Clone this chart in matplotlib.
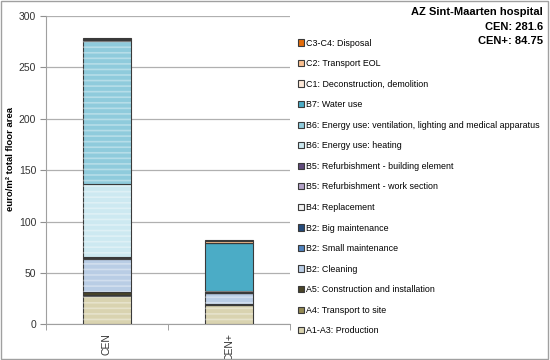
import matplotlib
matplotlib.use('Agg')
import matplotlib.pyplot as plt
import matplotlib.patches as mpatches
import numpy as np

plt.rcParams['font.family'] = ['Liberation Sans', 'DejaVu Sans']
plt.rcParams['hatch.linewidth'] = 1.2

# data (euro/m2 total floor area), bottom to top
scenarios = ['CEN', 'CEN+']
stages = ['A1-A3: Production', 'A4: Transport to site', 'A5: Construction and installation',
          'B2: Cleaning', 'B2: Small maintenance', 'B2: Big maintenance', 'B4: Replacement',
          'B5: Refurbishment - work section', 'B5: Refurbishment - building element',
          'B6: Energy use: heating',
          'B6: Energy use: ventilation, lighting and medical apparatus',
          'B7: Water use', 'C1: Deconstruction, demolition', 'C2: Transport EOL',
          'C3-C4: Disposal']
cen = [28.0, 1.0, 2.0, 33.0, 0.3, 0.5, 0.3, 0.2, 0.2, 71.5, 139.0, 0.3, 0.8, 0.5, 1.0]
cen_plus = [18.5, 0.5, 1.2, 10.0, 0.3, 0.3, 0.2, 0.1, 0.1, 0.5, 1.2, 46.0, 0.6, 1.6, 0.6]
colors = ['#d9d3b0', '#948a54', '#4a452a', '#b9cde5', '#4f81bd', '#254a7a', '#f2f2f2',
          '#b3a2c7', '#604a7b', '#cde9f1', '#8fcbdc', '#4bacc6', '#fde9d9', '#fac090',
          '#e46c0a']
hatched = [True, False, False, True, False, False, False,
           False, False, True, True, False, False, False, False]
totals = {'CEN': 281.6, 'CEN+': 84.75}

fig = plt.figure(figsize=(5.5, 3.6), dpi=100)
ax = fig.add_axes([0.0836, 0.099, 0.4437, 0.8566])

x = np.arange(len(scenarios))
bottom = np.zeros(len(scenarios))
for i, name in enumerate(stages):
    vals = np.array([cen[i], cen_plus[i]])
    ax.bar(x, vals, 0.4, bottom=bottom, color=colors[i], edgecolor='#3a3a3a',
           linewidth=0.8, zorder=3)
    if hatched[i]:
        ax.bar(x, vals, 0.4, bottom=bottom, color='none', edgecolor='#ffffff',
               alpha=0.35, hatch='---', linewidth=0, zorder=4)
    bottom += vals

ax.set_xlim(-0.5, 1.5)
ax.set_ylim(0, 300)
ax.set_yticks(np.arange(0, 301, 50))
ax.yaxis.grid(True, color='#b0b0b0', linewidth=0.9, zorder=0)
ax.set_axisbelow(True)
ax.set_xticks(x)
ax.set_xticklabels(scenarios, rotation=90, fontsize=7.5, color='#333333')
ax.set_xticks([-0.5, 0.5, 1.5], minor=True)
ax.tick_params(axis='x', which='major', length=0, pad=6)
ax.tick_params(axis='x', which='minor', length=4, color='#909090')
ax.tick_params(axis='y', length=4, color='#909090', labelsize=7.5, labelcolor='#333333',
               pad=3)
for s in ['top', 'right']:
    ax.spines[s].set_visible(False)
for s in ['left', 'bottom']:
    ax.spines[s].set_color('#a0a0a0')
ax.set_ylabel('euro/m² total floor area', fontsize=6.8, fontweight='bold')
ax.yaxis.set_label_coords(-0.125, 0.535)

handles = [mpatches.Patch(facecolor=colors[i], edgecolor='#3a3a3a', linewidth=0.8,
                          label=stages[i]) for i in range(len(stages))][::-1]
fig.legend(handles=handles, loc='upper left', bbox_to_anchor=(0.541, 0.893),
           frameon=False, fontsize=6.4, handlelength=0.7, handleheight=0.7,
           handletextpad=0.25, labelspacing=1.3, borderaxespad=0, borderpad=0)

fig.text(0.987, 0.968, 'AZ Sint-Maarten hospital', ha='right', va='center',
         fontsize=8, fontweight='bold')
fig.text(0.987, 0.925, 'CEN: %.1f' % totals['CEN'], ha='right', va='center',
         fontsize=8, fontweight='bold')
fig.text(0.987, 0.886, 'CEN+: %.2f' % totals['CEN+'], ha='right', va='center',
         fontsize=8, fontweight='bold')

fig.patches.append(mpatches.Rectangle((0.002, 0.003), 0.995, 0.993, transform=fig.transFigure,
                                      fill=False, edgecolor='#a0a0a0', linewidth=1))

fig.savefig('out.png', dpi=100)
